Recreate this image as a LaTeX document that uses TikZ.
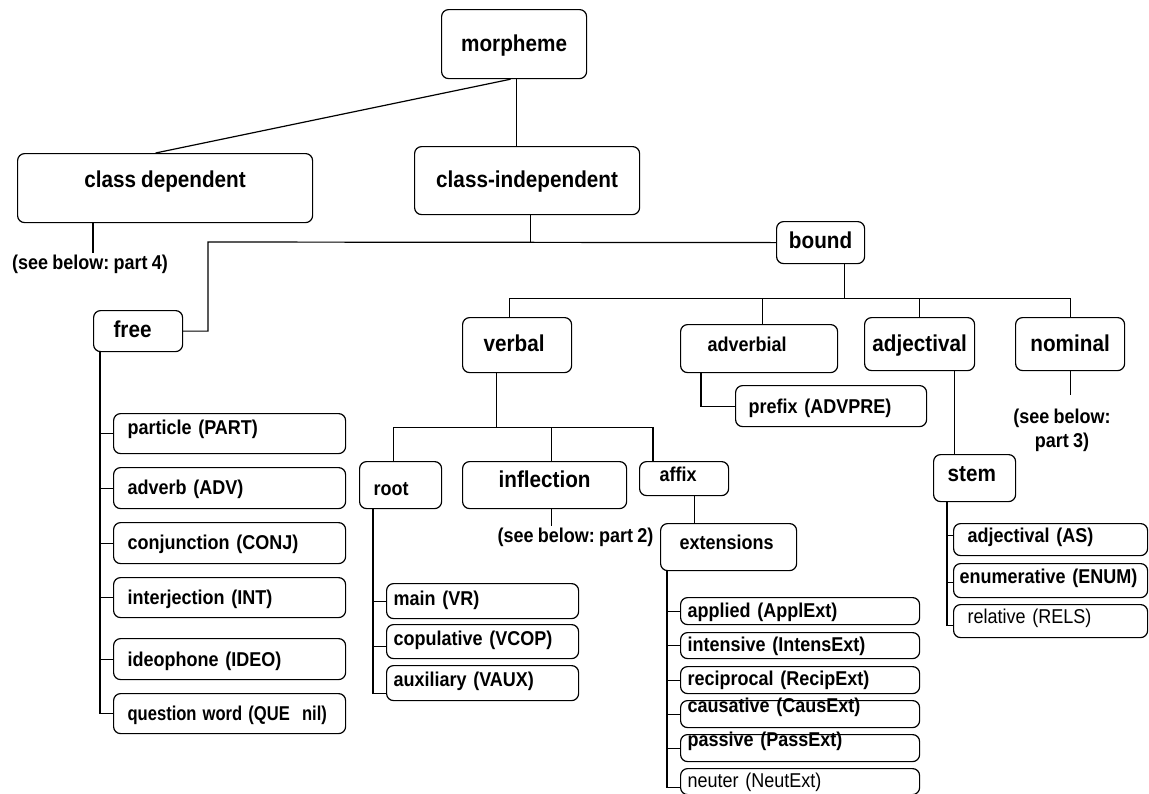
\documentclass[tikz,border=0pt]{standalone}
\usepackage{graphicx}
\usepackage{fontspec}
\setmainfont{Liberation Sans}[FakeStretch=0.9,WordSpace=0.85]
\frenchspacing
\begin{document}
\begin{tikzpicture}[x=1pt,y=-1pt,line width=1.2pt,
  every node/.style={inner sep=0pt},
  box/.style={draw, rounded corners=7pt, anchor=north west,
    font=\bfseries\fontsize{20}{23}\selectfont},
  bigtext/.style={font=\bfseries\fontsize{23}{26}\selectfont},
  plain/.style={font=\fontsize{20}{23}\selectfont},
  lft/.style={align=left},
  note/.style={font=\bfseries\fontsize{20}{24}\selectfont, align=center, inner sep=1pt}]

\fill[white] (0,0) rectangle (1149,793);
\useasboundingbox (0,0) rectangle (1149,793);

% ---------- upper levels ----------
\node[box,bigtext,minimum width=145pt,minimum height=69pt,text height=15pt,text depth=0pt] (morph) at (441,9) {morpheme};
\node[box,bigtext,minimum width=295pt,minimum height=69pt,text height=0pt,text depth=1pt] (cdep) at (17,153) {class dependent};
\node[box,bigtext,minimum width=225pt,minimum height=68pt,text height=14pt,text depth=0pt] (cind) at (414,146) {class-independent};
\node[box,bigtext,minimum width=88pt,minimum height=42pt,text height=12pt,text depth=0pt] (bound) at (776,221) {bound};
\node[box,bigtext,lft,minimum width=89pt,minimum height=41pt,inner xsep=20pt,text width=49pt,text height=13pt,text depth=0pt] (free) at (93,310) {free};

% ---------- bound morphemes ----------
\node[box,bigtext,lft,minimum width=109pt,minimum height=55pt,inner xsep=21pt,text width=67pt,text height=13pt,text depth=0pt] (verbal) at (462,317) {verbal};
\node[box,lft,minimum width=157pt,minimum height=48pt,inner xsep=27pt,text width=103pt,text height=6pt,text depth=0pt] (adverbial) at (680,324) {adverbial};
\node[box,bigtext,minimum width=110pt,minimum height=53pt,text height=15pt,text depth=0pt] (adjectival) at (864,317) {adjectival};
\node[box,bigtext,minimum width=109pt,minimum height=53pt,text height=15pt,text depth=0pt] (nominal) at (1015,317) {nominal};
\node[box,lft,minimum width=191pt,minimum height=41pt,inner xsep=13pt,text width=165pt,text height=15pt,text depth=0pt] (prefix) at (735,385) {prefix (ADVPRE)};
\node[box,lft,minimum width=82pt,minimum height=47pt,inner xsep=14pt,text width=54pt,text height=21pt,text depth=0pt] (root) at (359,461) {root};
\node[box,bigtext,minimum width=164pt,minimum height=47pt,text height=5pt,text depth=0pt] (inflection) at (462,461) {inflection};
\node[box,lft,minimum width=89pt,minimum height=34pt,inner xsep=20pt,text width=49pt,text height=6pt,text depth=0pt] (affix) at (639,461) {affix};
\node[box,lft,minimum width=136pt,minimum height=47pt,inner xsep=19pt,text width=98pt,text height=5pt,text depth=0pt] (extensions) at (660,523) {extensions};
\node[box,bigtext,lft,minimum width=82pt,minimum height=47pt,inner xsep=14pt,text width=54pt,text height=7pt,text depth=0pt] (stem) at (933,454) {stem};

% ---------- free morphemes ----------
\tikzset{fitem/.style={box,lft,minimum width=232pt,inner xsep=14pt,text width=204pt,text depth=0pt}}
\node[fitem,minimum height=40pt,text height=2pt] (particle) at (113,413) {particle (PART)};
\node[fitem,minimum height=41pt,text height=13pt] (adverb) at (113,467) {adverb (ADV)};
\node[fitem,minimum height=41pt,text height=13pt] (conj) at (113,522) {conjunction (CONJ)};
\node[fitem,minimum height=40pt,text height=14pt] (interj) at (113,577) {interjection (INT)};
\node[fitem,minimum height=41pt,text height=15pt] (ideo) at (113,638) {ideophone (IDEO)};
\node[fitem,minimum height=40pt,text height=14pt] (que) at (113,693) {\scalebox{0.92}[1]{question word (QUE\ \ nil)}};

% ---------- verb roots ----------
\tikzset{ritem/.style={box,lft,minimum width=192pt,inner xsep=7pt,text width=178pt,text depth=0pt}}
\node[ritem,minimum height=35pt,text height=9pt] (main) at (386,583) {main (VR)};
\node[ritem,minimum height=34pt,text height=8pt] (cop) at (386,624) {copulative (VCOP)};
\node[ritem,minimum height=35pt,text height=7pt] (aux) at (386,665) {auxiliary (VAUX)};

% ---------- verbal extensions ----------
\tikzset{eitem/.style={box,lft,minimum width=239pt,inner xsep=7pt,text width=225pt}}
\node[eitem,minimum height=27pt,text height=13pt,text depth=0pt] (appl) at (680,597) {applied (ApplExt)};
\node[eitem,minimum height=26pt,text height=12pt,text depth=0pt] (intens) at (680,632) {intensive (IntensExt)};
\node[eitem,minimum height=27pt,text height=11pt,text depth=0pt] (recip) at (680,666) {reciprocal (RecipExt)};
\node[eitem,minimum height=27pt,text height=0pt,text depth=3pt] (caus) at (680,700) {causative (CausExt)};
\node[eitem,minimum height=27pt,text height=0pt,text depth=3pt] (pass) at (680,734) {passive (PassExt)};
\node[eitem,plain,minimum height=26pt,text height=12pt,text depth=0pt] (neut) at (680,768) {neuter (NeutExt)};

% ---------- adjectival stems ----------
\node[box,lft,minimum width=194pt,minimum height=32pt,inner xsep=14pt,text width=166pt,text height=6pt,text depth=0pt] (as) at (953,523) {adjectival (AS)};
\node[box,lft,minimum width=194pt,minimum height=34pt,inner xsep=6pt,text width=182pt,text height=6pt,text depth=0pt] (enum) at (953,563) {enumerative (ENUM)};
\node[box,plain,lft,minimum width=194pt,minimum height=33pt,inner xsep=14pt,text width=166pt,text height=5pt,text depth=0pt] (rels) at (953,604) {relative (RELS)};

% ---------- references to other parts ----------
\node[note,anchor=base] (p4) at (90,269) {(see below: part 4)};
\node[note,anchor=base] (p2) at (575.5,542) {(see below: part 2)};
\node[note,anchor=north,inner ysep=10pt] (p3) at (1062,398) {(see below:\\part 3)};

% ---------- connectors ----------
\coordinate (mA) at ([xshift=2.5pt]morph.south);
\draw ([xshift=-3.5pt]morph.south) -- ([xshift=-9.5pt]cdep.north);
\draw (mA) -- (mA |- cind.north);

\coordinate (cdA) at ([xshift=76pt]cdep.south west);
\draw (cdA) -- (cdA |- p4.north);

\coordinate (ciA) at ([xshift=3.5pt]cind.south);
\coordinate (fj) at (208,242);
\draw (ciA) -- (ciA |- bound.west);
\draw (bound.west) -- (fj) |- (free.east);

\coordinate (bA) at ([xshift=24pt]bound.south);
\coordinate (bbus) at ([yshift=-34pt]bA);
\coordinate (vA) at ([xshift=-7.5pt]verbal.north);
\coordinate (adA) at ([xshift=3.5pt]adverbial.north);
\draw (bA) -- (bbus);
\draw (vA) -- (vA |- bbus) -- (nominal.north |- bbus) -- (nominal.north);
\draw (adA) -- (adA |- bbus);
\draw (adjectival.north) -- (adjectival.north |- bbus);

\coordinate (vB) at ([xshift=-20.5pt]verbal.south);
\coordinate (vbus) at ([yshift=-54pt]vB);
\coordinate (rA) at ([xshift=-7pt]root.north);
\coordinate (iA) at ([xshift=7pt]inflection.north);
\coordinate (afA) at ([xshift=14pt]affix.north west);
\draw (vB) -- (vbus);
\draw (rA) -- (rA |- vbus) -- (afA |- vbus) -- (afA);
\draw (iA) -- (iA |- vbus);

\coordinate (iB) at ([xshift=7pt]inflection.south);
\draw (iB) -- (iB |- p2.north);

\coordinate (afB) at ([xshift=10.5pt]affix.south);
\draw (afB) -- (afB |- extensions.north);

\draw ([xshift=21pt]adverbial.south west) |- (prefix.west);

\coordinate (ajA) at ([xshift=-21pt]adjectival.south east);
\draw (ajA) -- (ajA |- stem.north);

\draw[shorten >=3pt] (nominal.south) -- (nominal.south |- p3.north);

\coordinate (fv) at ([xshift=7pt]free.south west);
\draw (fv) |- (que.west);
\foreach \n in {particle,adverb,conj,interj,ideo}
  \draw (\n.west) -- (\n.west -| fv);

\coordinate (rv) at ([xshift=14pt]root.south west);
\coordinate (auxS) at ([yshift=-10.5pt]aux.west);
\coordinate (copS) at ([yshift=-5pt]cop.west);
\draw (rv) |- (auxS);
\draw (main.west) -- (main.west -| rv);
\draw (copS) -- (copS -| rv);

\coordinate (ev) at ([xshift=7pt]extensions.south west);
\coordinate (neS) at ([yshift=-6pt]neut.west);
\draw (ev) |- (neS);
\foreach \n in {appl,intens,recip,caus,pass}
  \draw (\n.west) -- (\n.west -| ev);

\coordinate (sv) at ([xshift=14pt]stem.south west);
\coordinate (relS) at ([yshift=-4.5pt]rels.west);
\coordinate (asS) at ([yshift=4pt]as.west);
\coordinate (enS) at ([yshift=-2pt]enum.west);
\draw (sv) |- (relS);
\draw (asS) -- (asS -| sv);
\draw (enS) -- (enS -| sv);
\end{tikzpicture}
\end{document}
